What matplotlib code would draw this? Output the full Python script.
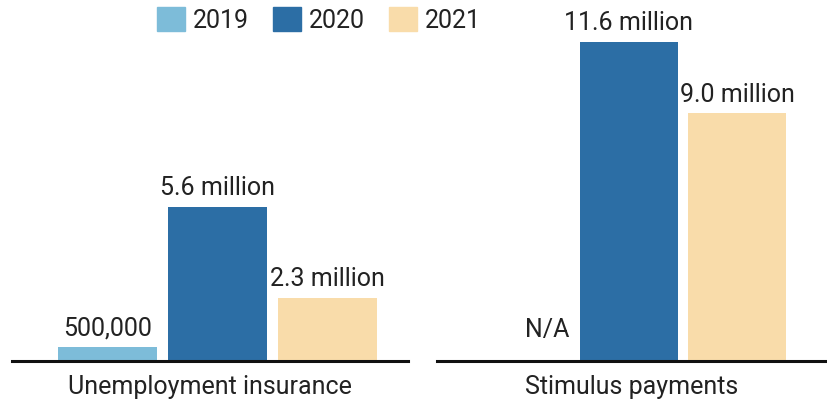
import matplotlib
matplotlib.use("Agg")
import matplotlib.pyplot as plt
from matplotlib.patches import Patch

years = ["2019", "2020", "2021"]
colors = ["#7dbcd9", "#2c6ea5", "#f9dcaa"]
categories = ["Unemployment insurance", "Stimulus payments"]
unemployment = [0.5, 5.6, 2.3]
unemployment_labels = ["500,000", "5.6 million", "2.3 million"]
stimulus = [None, 11.6, 9.0]
stimulus_labels = ["N/A", "11.6 million", "9.0 million"]

plt.rcParams['font.family'] = ['Roboto', 'DejaVu Sans']
FS = 18
TC = "#222222"

fig = plt.figure(figsize=(8.27, 4.04), dpi=100)
W, H = 827, 404
base = 361
ytop = base / 27.5

def make_ax(left_px, right_px, c0_px, step_px):
    ax = fig.add_axes([left_px / W, (H - base) / H, (right_px - left_px) / W, base / H])
    ax.set_xlim(-(c0_px - left_px) / step_px, (right_px - c0_px) / step_px)
    ax.set_ylim(0, ytop)
    for s in ["top", "right", "left"]:
        ax.spines[s].set_visible(False)
    ax.spines["bottom"].set_linewidth(2.2)
    ax.spines["bottom"].set_color("#111111")
    ax.set_yticks([])
    ax.set_xticks([])
    return ax

ax1 = make_ax(12, 408, 107.5, 110)
ax2 = make_ax(437, 827, 521, 108)

def draw(ax, vals, labels, width):
    for i, (v, lab) in enumerate(zip(vals, labels)):
        if v is None:
            ax.annotate(lab, (i + 0.24, 0), xytext=(0, 14), textcoords="offset points",
                        ha="center", va="bottom", fontsize=FS, color=TC)
            continue
        ax.bar(i, v, width=width, color=colors[i])
        ax.annotate(lab, (i, v), xytext=(0, 5), textcoords="offset points",
                    ha="center", va="bottom", fontsize=FS, color=TC)

draw(ax1, unemployment, unemployment_labels, 0.9)
draw(ax2, stimulus, stimulus_labels, 0.907)

for ax, cat in zip([ax1, ax2], categories):
    ax.text(0.5, -0.04, cat, transform=ax.transAxes, ha="center",
            va="top", fontsize=FS, color=TC)

handles = [Patch(color=c, label=y) for c, y in zip(colors, years)]
fig.legend(handles=handles, loc="center", bbox_to_anchor=(0.386, 0.95), ncol=3,
           frameon=False, fontsize=FS, handlelength=1.1, handleheight=1.1,
           handletextpad=0.35, columnspacing=0.95, labelcolor=TC,
           borderpad=0, borderaxespad=0)

fig.savefig("out.png", dpi=100)
